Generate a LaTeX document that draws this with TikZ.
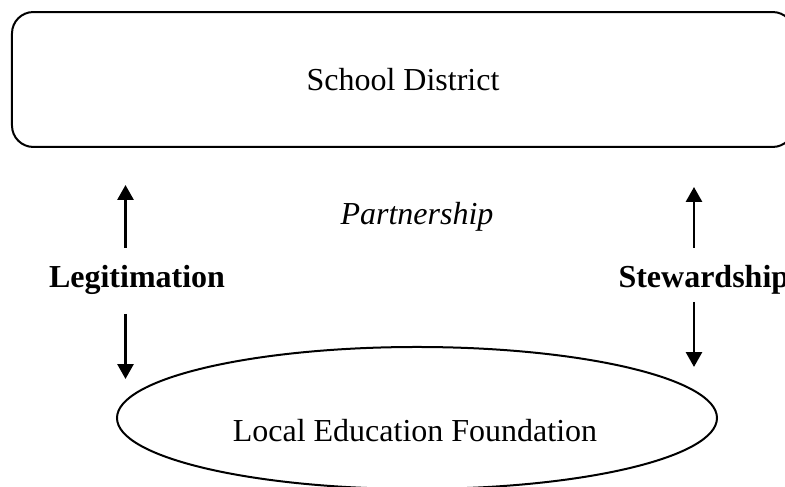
\documentclass[tikz,border=0pt]{standalone}
\usepackage{fontspec}
\setmainfont{Liberation Serif}
\usetikzlibrary{shapes.geometric,arrows.meta}
\tikzset{>={Triangle[length=5.6pt,width=6pt]}}
\tikzset{
  box/.style={draw,line width=0.75pt,rounded corners=8pt,inner sep=0pt,
    minimum width=293.25pt,minimum height=50.6pt},
  oval/.style={draw,ellipse,line width=0.75pt,inner sep=0pt,
    minimum width=225pt,minimum height=53.25pt},
  link/.style={->,line width=1pt}
}

\begin{document}
\begin{tikzpicture}[x=0.375pt,y=-0.375pt,font=\fontsize{12}{14}\selectfont]
    \useasboundingbox (0,0) rectangle (785,487);
    \node[box](SD) at (403,79.5) {School District};
    \node[oval](LEF) at (417,418) {};
    \node[anchor=base](LEFtext) at (415,442) {Local Education Foundation};
    \node[anchor=base](P) at (417,225) {\itshape Partnership};
    \node[anchor=base](L) at (137,288) {\bfseries Legitimation};
    \node[anchor=base west,inner sep=0pt](S) at (618,288) {\bfseries Stewardship};
    % arrows
    \coordinate (lt) at (125.5,248); \coordinate (lh) at (125.5,185);
    \coordinate (ls) at (125.5,314); \coordinate (le) at (125.5,379);
    \coordinate (rt) at (694,248); \coordinate (rh) at (694,187);
    \coordinate (rs) at (694,302); \coordinate (re) at (694,367);
    \draw[link] (lt) -- (lh);
    \draw[link] (ls) -- (le);
    \draw[link] (rt) -- (rh);
    \draw[link] (rs) -- (re);
\end{tikzpicture}
\end{document}
